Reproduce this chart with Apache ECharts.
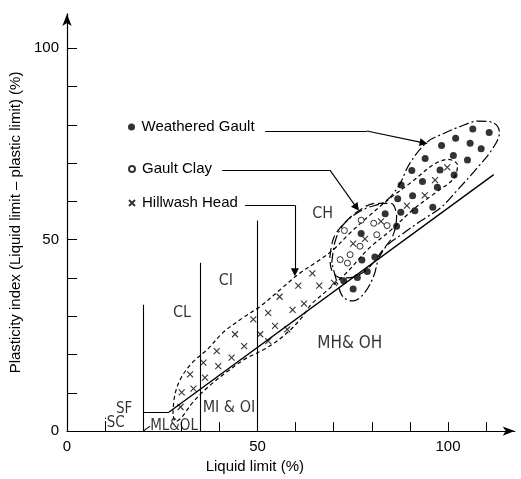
<!DOCTYPE html>
<html>
<head>
<meta charset="utf-8">
<script src="https://cdn.jsdelivr.net/npm/echarts@6/dist/echarts.min.js"></script>
<style>
  html, body { margin: 0; padding: 0; background: #fff; }
  #chart { width: 521px; height: 479px; }
</style>
</head>
<body>
<div id="chart"></div>
<script>
// Liquid limit (%) / plasticity index (%) pairs for each soil group
const weatheredGault = [
  [106.5, 78.9], [110.8, 78.0], [102.0, 76.5], [105.8, 75.2], [98.3, 74.6],
  [108.7, 73.8], [101.4, 72.0], [94.0, 71.2], [105.1, 70.8], [97.9, 68.2],
  [90.5, 68.1], [101.6, 66.9], [93.3, 65.2], [87.7, 64.3], [97.2, 63.7],
  [90.7, 61.5], [86.8, 60.7], [96.0, 58.5], [91.3, 57.6], [87.6, 57.2],
  [83.5, 56.8], [86.5, 53.5], [77.2, 51.6], [77.4, 44.7], [80.8, 45.5],
  [72.6, 39.3], [76.2, 40.1], [78.8, 41.7], [75.1, 37.1]
];
const gaultClay = [
  [71.7, 44.8], [72.8, 52.4], [73.6, 43.9], [74.3, 46.1], [76.9, 48.3],
  [77.2, 55.1], [80.5, 54.3], [81.3, 51.3], [84.0, 53.7]
];
const hillwashHead = [
  [29.8, 6.3], [30.1, 10.1], [32.3, 14.8], [33.2, 11.1], [35.8, 17.9],
  [36.2, 14.0], [39.3, 20.9], [39.7, 17.0], [43.2, 19.2], [44.1, 25.3],
  [46.5, 22.2], [48.9, 29.2], [50.7, 25.3], [52.8, 30.9], [52.8, 23.5],
  [54.6, 27.5], [55.8, 35.1], [57.8, 26.6], [59.2, 31.7], [60.7, 38.0],
  [62.2, 33.3], [64.4, 41.2], [66.2, 38.0], [70.1, 38.7], [75.1, 49.0],
  [78.2, 50.2], [82.4, 54.8], [89.2, 58.9], [93.9, 61.6], [96.6, 65.6],
  [99.8, 68.9]
];

// Outlines drawn round each group
const weatheredGaultEnvelope = [
  [69.5, 44], [70.5, 50], [73, 54.5], [78, 58], [83.5, 60], [87, 64], [90, 70],
  [94.5, 75.5], [99, 77.8], [103, 79.5], [108, 81], [112, 80.5], [113.5, 78],
  [111.5, 73.5], [107, 68], [102.5, 63], [98, 58.3], [93, 55], [88, 51.5],
  [84, 48.5], [81.8, 45], [80.5, 40.5], [78, 36], [75, 34], [72.5, 35],
  [71, 38.5], [69.5, 44]
];
const gaultClayEnvelope = [
  [69, 45.5], [70, 50.5], [72.5, 54], [76.5, 57.5], [81, 59.5], [85, 59.5],
  [86.5, 56], [85.5, 51], [83, 47.5], [79.5, 43], [76, 40.5], [72, 40],
  [69.5, 42], [69, 45.5]
];
const hillwashEnvelope = [
  [27.8, 4.5], [28.3, 9.5], [30, 14], [33, 18], [37, 21.5], [41, 25.8],
  [46, 29.5], [51, 32.8], [56, 37], [61, 41.2], [66, 44.5], [70, 47.5],
  [74, 51.5], [79, 56], [85, 61], [91, 65.5], [96, 69.5], [100, 71],
  [102.5, 69.5], [101.5, 66], [97, 62.5], [91, 58], [85, 52.5], [79, 47.5],
  [73, 41], [68, 36.5], [64, 33], [61.5, 29.5], [57, 25], [52, 21.5],
  [47, 19], [42, 15.5], [37, 11.5], [33, 7.5], [30, 3.5], [28.5, 2.5],
  [27.8, 4.5]
];

// Classification chart boundaries
const aLine = [[26.8, 5], [112, 67]];
const zoneBoundaries = [
  [[20, 0], [20, 33]],
  [[35, 0], [35, 44]],
  [[50, 0], [50, 55]],
  [[20, 5], [26.8, 5]],
  [[20, 0], [21.8, 1.3]]
];
const siltBoundary = [[10, 0], [10, 3.5]];

// Leader lines from the key to each outline: [start, bend, tip]
const leaderWeathered = [[52, 78.4], [78.7, 78.4], [93.6, 75.3]];
const leaderClay = [[40.7, 68.2], [69, 68.2], [76.0, 58.4]];
const leaderHillwash = [[46.7, 59], [59.8, 59], [59.8, 41.5]];

// Zone names
const zoneNames = ['CL', 'CI', 'CH', 'MH& OH', 'MI & OI', 'SF', 'SC', 'ML&OL'];
const zoneAnchors = [
  [30.2, 31.0], [41.7, 39.3], [67.1, 56.8], [74.2, 22.8],
  [42.5, 6.0], [15.0, 5.7], [12.8, 2.1], [28.1, 1.4]
];
const zoneFontSizes = [16, 16, 16, 17, 16, 15, 15, 15];

// Axis marks
const xTickValues = [10, 20, 30, 40, 50, 60, 70, 80, 90, 100, 110];
const yTickValues = [10, 20, 30, 40, 50, 60, 70, 80, 90, 100];
const xLabelValues = [0, 50, 100];
const yLabelValues = [0, 50, 100];

const SANS = 'Liberation Sans, Arial, sans-serif';
const LETTERING = 'DejaVu Sans Condensed, Liberation Sans Narrow, sans-serif';
const CROSS = 'path://M0,0L10,10M10,0L0,10';

const chart = echarts.init(document.getElementById('chart'), null, { renderer: 'canvas' });

const envelope = (data, dash) => ({
  type: 'line',
  data: data,
  smooth: 0.35,
  symbol: 'none',
  silent: true,
  z: 2,
  lineStyle: { color: '#000', width: 1.2, type: dash }
});

const legendBase = {
  orient: 'horizontal',
  padding: 0,
  selectedMode: false,
  symbolKeepAspect: true,
  textStyle: { fontFamily: SANS, fontSize: 15, color: '#000' }
};

chart.setOption({
  animation: false,
  backgroundColor: '#fff',
  grid: { left: 67, top: 13.9, width: 447.7, height: 418.1, containLabel: false },
  legend: [
    Object.assign({}, legendBase, { data: ['Weathered Gault'], left: 128, top: 119.5, itemWidth: 10, itemHeight: 7 }),
    Object.assign({}, legendBase, { data: ['Gault Clay'], left: 128, top: 161.5, itemWidth: 10, itemHeight: 6 }),
    Object.assign({}, legendBase, { data: ['Hillwash Head'], left: 128, top: 195.5, itemWidth: 10, itemHeight: 6 })
  ],
  xAxis: {
    type: 'value',
    min: 0,
    max: 117.5,
    interval: 10,
    name: 'Liquid limit (%)',
    nameLocation: 'middle',
    nameGap: 25,
    nameTextStyle: { fontFamily: SANS, fontSize: 15, color: '#000', padding: [0, 72, 0, 0] },
    axisLine: { show: true, symbol: ['none', 'arrow'], symbolSize: [7, 12], lineStyle: { color: '#000', width: 1.2 } },
    axisTick: { show: true, inside: true, length: 9, customValues: xTickValues, lineStyle: { color: '#000', width: 1 } },
    axisLabel: { show: true, customValues: xLabelValues, margin: 8, fontFamily: SANS, fontSize: 15, color: '#000' },
    splitLine: { show: false }
  },
  yAxis: {
    type: 'value',
    min: 0,
    max: 109,
    interval: 10,
    name: 'Plasticity index (Liquid limit \u2013 plastic limit) (%)',
    nameLocation: 'middle',
    nameGap: 40,
    nameRotate: 90,
    nameTextStyle: { fontFamily: SANS, fontSize: 15, color: '#000' },
    axisLine: { show: true, symbol: ['none', 'arrow'], symbolSize: [7, 12], lineStyle: { color: '#000', width: 1.2 } },
    axisTick: { show: true, inside: true, length: 10, customValues: yTickValues, lineStyle: { color: '#000', width: 1 } },
    axisLabel: { show: true, customValues: yLabelValues, margin: 8, fontFamily: SANS, fontSize: 15, color: '#000' },
    splitLine: { show: false }
  },
  series: [
    // A-line
    {
      type: 'line', data: aLine, symbol: 'none', silent: true, z: 3,
      lineStyle: { color: '#000', width: 1.4 }
    },
    // zone boundaries
    {
      type: 'lines', coordinateSystem: 'cartesian2d', silent: true, z: 3,
      symbol: 'none',
      lineStyle: { color: '#000', width: 1.1, opacity: 1, curveness: 0 },
      data: zoneBoundaries.map(c => ({ coords: c }))
    },
    {
      type: 'lines', coordinateSystem: 'cartesian2d', silent: true, z: 3,
      symbol: 'none',
      lineStyle: { color: '#000', width: 1, opacity: 1, type: [2, 2] },
      data: [{ coords: siltBoundary }]
    },
    envelope(hillwashEnvelope, [4, 3]),
    envelope(gaultClayEnvelope, [9, 4]),
    envelope(weatheredGaultEnvelope, [10, 3, 2, 3]),
    // leader lines
    {
      type: 'lines', coordinateSystem: 'cartesian2d', silent: true, z: 4,
      symbol: 'none',
      lineStyle: { color: '#000', width: 1.1, opacity: 1 },
      data: [leaderWeathered, leaderClay, leaderHillwash].map(p => ({ coords: [p[0], p[1]] }))
    },
    {
      type: 'lines', coordinateSystem: 'cartesian2d', silent: true, z: 4,
      symbol: ['none', 'triangle'], symbolSize: 8,
      itemStyle: { color: '#000' },
      lineStyle: { color: '#000', width: 1.1, opacity: 1 },
      data: [leaderWeathered, leaderClay, leaderHillwash].map(p => ({ coords: [p[1], p[2]] }))
    },
    // soil groups
    {
      name: 'Weathered Gault', type: 'scatter', data: weatheredGault, z: 5,
      symbol: 'circle', symbolSize: 7,
      itemStyle: { color: '#000' }
    },
    {
      name: 'Gault Clay', type: 'scatter', data: gaultClay, z: 5,
      symbol: 'circle', symbolSize: 6,
      itemStyle: { color: '#fff', borderColor: '#000', borderWidth: 1 }
    },
    {
      name: 'Hillwash Head', type: 'scatter', data: hillwashHead, z: 5,
      symbol: CROSS, symbolSize: 6,
      itemStyle: { color: 'rgba(0,0,0,0)', borderColor: '#000', borderWidth: 1.1 }
    },
    // zone names
    {
      type: 'scatter', silent: true, z: 6,
      symbolSize: 1,
      itemStyle: { color: 'rgba(0,0,0,0)' },
      label: {
        show: true, position: 'inside',
        formatter: p => p.name,
        fontFamily: LETTERING, fontSize: 16, color: '#000'
      },
      data: zoneNames.map((n, i) => ({
        name: n, value: zoneAnchors[i],
        label: { fontSize: zoneFontSizes[i] }
      }))
    }
  ]
});
</script>
</body>
</html>
